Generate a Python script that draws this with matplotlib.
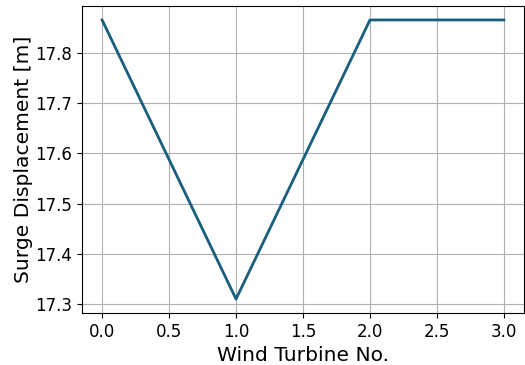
import matplotlib
matplotlib.use("Agg")
import matplotlib.pyplot as plt

turbine_no = [0, 1, 2, 3]
surge_displacement = [17.866, 17.310, 17.866, 17.866]

fig = plt.figure(figsize=(5.25, 3.65), dpi=100)
ax = fig.add_axes([82 / 525, 1 - 313 / 365, (524 - 82) / 525, (313 - 6) / 365])
ax.plot(turbine_no, surge_displacement, color="#185e7e", linewidth=2)
ax.grid(True, color="#b0b0b0", linewidth=0.8)
ax.set_xlabel("Wind Turbine No.", fontsize=14.6)
ax.set_ylabel("Surge Displacement [m]", fontsize=14.6, labelpad=1.5)
ax.tick_params(labelsize=12)
fig.savefig("out.png", dpi=100)
